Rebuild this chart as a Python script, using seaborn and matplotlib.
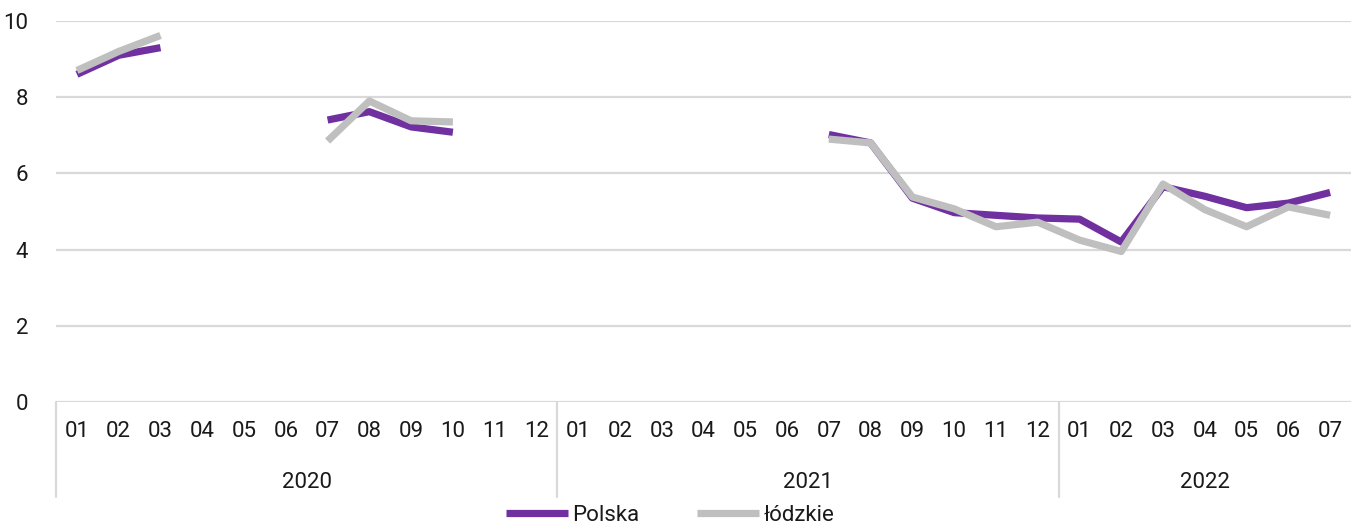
import numpy as np
import pandas as pd
import matplotlib.pyplot as plt
import matplotlib.transforms as mtransforms
from matplotlib.lines import Line2D
import seaborn as sns

sns.set_style('white')
plt.rcParams['font.family'] = ['Roboto', 'DejaVu Sans']

# monthly stopa bezrobocia (%), 2020-01 .. 2022-07; NaN = brak danych
month_labels = ['01', '02', '03', '04', '05', '06', '07', '08', '09', '10', '11', '12',
                '01', '02', '03', '04', '05', '06', '07', '08', '09', '10', '11', '12',
                '01', '02', '03', '04', '05', '06', '07']
years = ['2020', '2021', '2022']
year_len = [12, 12, 7]
nan = np.nan
polska = [8.6, 9.1, 9.3, nan, nan, nan, 7.4, 7.62, 7.22, 7.08, nan, nan,
          nan, nan, nan, nan, nan, nan, 7.02, 6.8, 5.35, 4.97, 4.9, 4.83,
          4.8, 4.2, 5.65, 5.4, 5.1, 5.22, 5.5]
lodzkie = [8.7, 9.2, 9.62, nan, nan, nan, 6.85, 7.9, 7.38, 7.35, nan, nan,
           nan, nan, nan, nan, nan, nan, 6.9, 6.8, 5.38, 5.07, 4.6, 4.72,
           4.25, 3.95, 5.72, 5.05, 4.6, 5.12, 4.9]
series_names = ['Polska', 'łódzkie']
colors = ['#7030A0', '#BFBFBF']

rows = []
for name, vals in zip(series_names, [polska, lodzkie]):
    seg = 0
    prev_nan = True
    for i, v in enumerate(vals):
        if np.isnan(v):
            prev_nan = True
            continue
        if prev_nan:
            seg += 1
            prev_nan = False
        rows.append({'x': i, 'value': v, 'series': name, 'seg': seg})
df = pd.DataFrame(rows)

fig = plt.figure(figsize=(13.51, 5.31), dpi=100)
ax = fig.add_axes([0.0415, 0.2429, 0.9585, 0.7176])

for y in range(0, 11, 2):
    ax.axhline(y, color='#D9D9D9', lw=1.6, zorder=0)

sns.lineplot(data=df, x='x', y='value', hue='series', units='seg', estimator=None,
             palette=dict(zip(series_names, colors)), hue_order=series_names,
             linewidth=5.2, legend=False, ax=ax, solid_capstyle='butt',
             solid_joinstyle='round')

n = len(month_labels)
ax.set_xlim(-0.5, n - 0.5)
ax.set_ylim(0, 10)
ax.set_xticks(range(n))
ax.set_xticklabels(month_labels)
ax.set_yticks(range(0, 11, 2))
ax.tick_params(axis='x', length=0, pad=14, labelsize=16, labelcolor='#1a1a1a')
ax.tick_params(axis='y', length=0, pad=20, labelsize=16, labelcolor='#1a1a1a')
ax.set_xlabel('')
ax.set_ylabel('')
for s in ax.spines.values():
    s.set_visible(False)

# year groups below month labels
trans = mtransforms.blended_transform_factory(ax.transData, ax.transAxes)
start = -0.5
for yr, ln in zip(years, year_len):
    ax.plot([start, start], [0, -0.25], transform=trans, color='#D9D9D9',
            lw=1.6, clip_on=False)
    ax.text(start + ln / 2, -0.21, yr, transform=trans, ha='center', va='center',
            fontsize=16, color='#1a1a1a')
    start += ln

handles = [Line2D([], [], color=c, lw=5.2, solid_capstyle='butt') for c in colors]
fig.legend(handles, series_names, loc='lower center', bbox_to_anchor=(0.496, -0.028),
           ncol=2, frameon=False, fontsize=16, handlelength=2.8, handletextpad=0.2,
           columnspacing=2.6, labelcolor='#1a1a1a')

fig.savefig('out.png', dpi=100)
